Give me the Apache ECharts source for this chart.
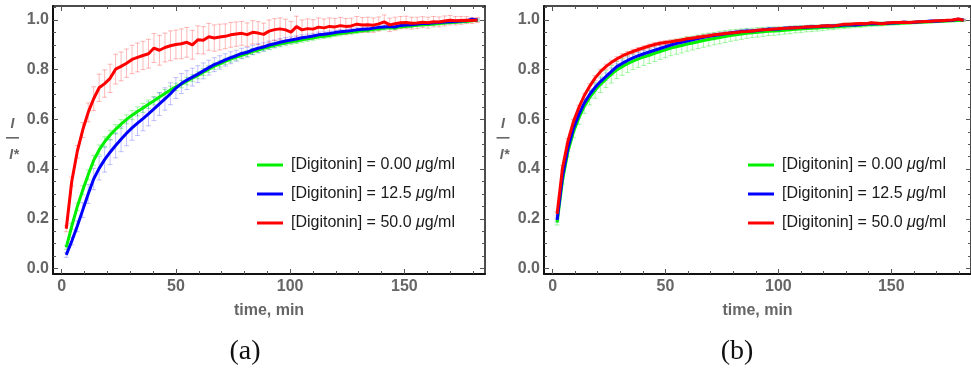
<!DOCTYPE html>
<html>
<head>
<meta charset="utf-8">
<script src="https://cdn.jsdelivr.net/npm/echarts@6/dist/echarts.min.js"></script>
<style>
html,body{margin:0;padding:0;background:#fff;}
#chart{width:971px;height:371px;}
</style>
</head>
<body>
<div id="chart"></div>
<script>
// ---- data ----
const time = [2.0,4.4,6.8,9.2,11.6,14.0,16.4,18.8,21.2,23.6,26.0,28.4,30.8,33.2,35.6,38.0,40.4,42.8,45.2,47.6,
  50.0,52.4,54.8,57.2,59.6,62.0,64.4,66.8,69.2,71.6,74.0,76.4,78.8,81.2,83.6,86.0,88.4,90.8,93.2,95.6,
  98.0,100.4,102.8,105.2,107.6,110.0,112.4,114.8,117.2,119.6,122.0,124.4,126.8,129.2,131.6,134.0,136.4,138.8,141.2,143.6,
  146.0,148.4,150.8,153.2,155.6,158.0,160.4,162.8,165.2,167.6,170.0,172.4,174.8,177.2,179.6,182.0];

const seriesNames = ['[Digitonin] = 0.00 μg/ml', '[Digitonin] = 12.5 μg/ml', '[Digitonin] = 50.0 μg/ml'];

// panel (a)
const greenA = [0.085,0.17,0.248,0.315,0.377,0.435,0.477,0.51,0.537,0.56,0.581,0.6,0.617,0.632,0.646,0.661,0.675,0.69,0.704,0.718,
  0.731,0.742,0.754,0.766,0.777,0.79,0.802,0.814,0.823,0.833,0.842,0.85,0.858,0.865,0.873,0.879,0.886,0.892,0.898,0.903,
  0.908,0.912,0.915,0.92,0.924,0.927,0.932,0.934,0.937,0.942,0.945,0.948,0.951,0.953,0.957,0.958,0.962,0.964,0.967,0.969,
  0.968,0.973,0.975,0.976,0.979,0.981,0.982,0.984,0.986,0.988,0.99,0.991,0.993,0.994,0.997,0.999];
const greenAErr = [0.008,0.012,0.015,0.018,0.02,0.02,0.02,0.02,0.019,0.019,0.018,0.018,0.018,0.018,0.018,0.017,0.017,0.016,0.016,0.016,
  0.015,0.015,0.015,0.014,0.014,0.014,0.013,0.013,0.013,0.013,0.012,0.012,0.012,0.012,0.012,0.011,0.011,0.011,0.011,0.011,
  0.01,0.01,0.01,0.01,0.01,0.009,0.009,0.009,0.009,0.009,0.009,0.008,0.008,0.008,0.008,0.008,0.008,0.008,0.008,0.007,
  0.007,0.007,0.007,0.007,0.006,0.006,0.006,0.006,0.006,0.005,0.005,0.005,0.005,0.005,0.004,0.004];
const blueA = [0.055,0.11,0.17,0.235,0.3,0.36,0.403,0.438,0.468,0.495,0.52,0.544,0.566,0.585,0.603,0.622,0.642,0.662,0.682,0.703,
  0.726,0.744,0.758,0.77,0.782,0.795,0.808,0.82,0.829,0.839,0.848,0.856,0.865,0.87,0.879,0.886,0.891,0.899,0.904,0.91,
  0.915,0.919,0.923,0.928,0.931,0.935,0.94,0.942,0.945,0.949,0.952,0.954,0.957,0.96,0.962,0.963,0.967,0.97,0.972,0.974,
  0.972,0.978,0.98,0.981,0.984,0.986,0.986,0.989,0.99,0.992,0.993,0.994,0.996,0.997,1.003,1.0];
const blueAErr = [0.01,0.015,0.022,0.03,0.038,0.043,0.047,0.05,0.05,0.05,0.05,0.05,0.05,0.05,0.049,0.048,0.047,0.046,0.045,0.044,
  0.042,0.04,0.038,0.036,0.034,0.032,0.03,0.028,0.027,0.025,0.024,0.022,0.021,0.02,0.019,0.018,0.017,0.016,0.015,0.015,
  0.014,0.013,0.013,0.012,0.012,0.011,0.011,0.01,0.01,0.01,0.009,0.009,0.009,0.008,0.008,0.008,0.008,0.007,0.007,0.007,
  0.007,0.006,0.006,0.006,0.006,0.006,0.005,0.005,0.005,0.005,0.005,0.005,0.004,0.004,0.004,0.004];
const redA = [0.16,0.35,0.47,0.557,0.628,0.683,0.727,0.744,0.765,0.802,0.813,0.826,0.841,0.849,0.857,0.864,0.887,0.878,0.889,0.896,
  0.901,0.904,0.91,0.9,0.92,0.918,0.932,0.927,0.931,0.934,0.94,0.943,0.946,0.941,0.95,0.947,0.942,0.955,0.961,0.964,
  0.96,0.951,0.973,0.96,0.965,0.963,0.971,0.968,0.974,0.972,0.977,0.974,0.976,0.983,0.98,0.981,0.979,0.984,0.992,0.98,
  0.985,0.989,0.99,0.987,0.988,0.991,0.989,0.993,0.992,0.996,0.999,0.997,0.998,0.999,0.998,1.0];
const redAErr = [0.012,0.018,0.025,0.03,0.038,0.048,0.055,0.055,0.057,0.06,0.058,0.057,0.057,0.058,0.057,0.058,0.058,0.06,0.058,0.06,
  0.058,0.06,0.06,0.058,0.056,0.055,0.054,0.053,0.052,0.05,0.05,0.049,0.048,0.047,0.047,0.046,0.045,0.045,0.044,0.044,
  0.043,0.043,0.042,0.04,0.039,0.038,0.037,0.036,0.034,0.034,0.033,0.032,0.031,0.031,0.03,0.03,0.029,0.028,0.028,0.027,
  0.026,0.025,0.025,0.024,0.023,0.022,0.022,0.021,0.02,0.02,0.019,0.017,0.016,0.014,0.012,0.01];

// panel (b)
const greenB = [0.185,0.355,0.47,0.548,0.605,0.652,0.688,0.717,0.741,0.762,0.781,0.799,0.812,0.824,0.834,0.843,0.851,0.858,0.866,0.873,
  0.88,0.887,0.892,0.897,0.903,0.907,0.912,0.917,0.921,0.925,0.929,0.933,0.937,0.94,0.943,0.946,0.948,0.95,0.952,0.954,
  0.955,0.956,0.958,0.96,0.962,0.963,0.965,0.966,0.967,0.969,0.971,0.972,0.974,0.975,0.977,0.978,0.979,0.981,0.982,0.983,
  0.984,0.985,0.986,0.987,0.988,0.989,0.99,0.991,0.992,0.993,0.994,0.995,0.996,0.997,0.998,0.998];
const greenBErr = [0.01,0.015,0.02,0.022,0.025,0.028,0.03,0.032,0.033,0.034,0.035,0.035,0.035,0.035,0.034,0.034,0.034,0.033,0.033,0.032,
  0.032,0.031,0.03,0.03,0.029,0.028,0.027,0.027,0.026,0.025,0.025,0.024,0.023,0.022,0.021,0.02,0.019,0.019,0.018,0.017,
  0.017,0.016,0.015,0.015,0.014,0.014,0.013,0.013,0.012,0.012,0.011,0.011,0.01,0.01,0.01,0.009,0.009,0.009,0.008,0.008,
  0.008,0.007,0.007,0.007,0.006,0.006,0.006,0.006,0.005,0.005,0.005,0.005,0.004,0.004,0.004,0.004];
const blueB = [0.195,0.37,0.484,0.562,0.618,0.665,0.7,0.728,0.752,0.772,0.792,0.812,0.825,0.837,0.847,0.856,0.864,0.871,0.878,0.885,
  0.892,0.899,0.905,0.91,0.915,0.92,0.925,0.93,0.934,0.937,0.94,0.944,0.947,0.95,0.953,0.955,0.955,0.957,0.96,0.963,
  0.962,0.963,0.967,0.968,0.969,0.97,0.971,0.973,0.973,0.975,0.976,0.976,0.978,0.98,0.981,0.98,0.982,0.984,0.986,0.985,
  0.986,0.987,0.988,0.989,0.991,0.99,0.991,0.993,0.994,0.996,0.995,0.997,0.998,0.999,1.003,1.0];
const blueBErr = [0.008,0.01,0.012,0.013,0.014,0.015,0.015,0.015,0.015,0.015,0.015,0.014,0.014,0.014,0.013,0.013,0.013,0.012,0.012,0.012,
  0.011,0.011,0.011,0.01,0.01,0.01,0.01,0.009,0.009,0.009,0.009,0.008,0.008,0.008,0.008,0.008,0.007,0.007,0.007,0.007,
  0.007,0.007,0.006,0.006,0.006,0.006,0.006,0.006,0.005,0.005,0.005,0.005,0.005,0.005,0.005,0.005,0.004,0.004,0.004,0.004,
  0.004,0.004,0.004,0.004,0.004,0.004,0.003,0.003,0.003,0.003,0.003,0.003,0.003,0.003,0.003,0.003];
const redB = [0.22,0.405,0.513,0.59,0.647,0.695,0.733,0.766,0.792,0.812,0.829,0.843,0.855,0.864,0.873,0.881,0.888,0.895,0.901,0.906,
  0.909,0.912,0.916,0.919,0.924,0.926,0.93,0.933,0.936,0.94,0.942,0.945,0.947,0.949,0.952,0.953,0.955,0.958,0.96,0.961,
  0.963,0.965,0.966,0.968,0.969,0.97,0.972,0.973,0.974,0.976,0.977,0.976,0.979,0.983,0.983,0.985,0.986,0.985,0.989,0.987,
  0.985,0.988,0.99,0.99,0.991,0.99,0.992,0.993,0.994,0.995,0.997,0.997,0.999,1.0,1.004,0.999];
const redBErr = [0.008,0.009,0.01,0.01,0.01,0.01,0.01,0.01,0.01,0.01,0.009,0.009,0.009,0.009,0.009,0.008,0.008,0.008,0.008,0.008,
  0.008,0.008,0.007,0.007,0.007,0.007,0.007,0.007,0.007,0.006,0.006,0.006,0.006,0.006,0.006,0.006,0.006,0.005,0.005,0.005,
  0.005,0.005,0.005,0.005,0.005,0.005,0.005,0.005,0.004,0.004,0.004,0.004,0.004,0.004,0.004,0.004,0.004,0.004,0.004,0.004,
  0.004,0.004,0.003,0.003,0.003,0.003,0.003,0.003,0.003,0.003,0.003,0.003,0.003,0.003,0.003,0.003];

const xMajor = [0, 50, 100, 150];
const xMinor = [10,20,30,40,60,70,80,90,110,120,130,140,160,170,180];
const yMajor = [0, 0.2, 0.4, 0.6, 0.8, 1.0];
const yMinor = [0.05,0.1,0.15,0.25,0.3,0.35,0.45,0.5,0.55,0.65,0.7,0.75,0.85,0.9,0.95,1.05];

// ---- styles ----
const colors = ['#00f000', '#0000ff', '#ff0000'];
const errColors = ['rgba(0,230,0,0.35)', 'rgba(40,40,255,0.28)', 'rgba(255,0,0,0.28)'];
const labelGray = '#666666';
const FONT = "'Liberation Sans', Arial, sans-serif";

const panels = [
  {left: 53, width: 432, data: [greenA, blueA, redA], err: [greenAErr, blueAErr, redAErr], legendLeft: 257},
  {left: 544, width: 432, data: [greenB, blueB, redB], err: [greenBErr, blueBErr, redBErr], legendLeft: 748}
];
const X_MIN = -3.8, X_MAX = 185.3, Y_MIN = -0.022, Y_MAX = 1.056;

const grid = [], xAxis = [], yAxis = [], series = [], legend = [];

panels.forEach((p, gi) => {
  grid.push({left: p.left, top: 6, width: p.width, height: 268, containLabel: false});
  const xBase = xAxis.length, yBase = yAxis.length;
  const mkX = (pos, ticks, len, showLine, showLabel, lw) => ({
    type: 'value', gridIndex: gi, position: pos, min: X_MIN, max: X_MAX,
    splitLine: {show: false},
    axisLine: {show: showLine, onZero: false, lineStyle: {color: '#111', width: lw}},
    axisTick: {show: true, inside: true, length: len, customValues: ticks, lineStyle: {color: '#555', width: 1}},
    axisLabel: showLabel ? {show: true, customValues: ticks, margin: 5, color: labelGray,
      fontFamily: FONT, fontWeight: 'bold', fontSize: 16} : {show: false},
    name: showLabel ? 'time, min' : '', nameLocation: 'middle', nameGap: 29,
    nameTextStyle: {color: labelGray, fontFamily: FONT, fontWeight: 'bold', fontSize: 16}
  });
  const mkY = (pos, ticks, len, showLine, showLabel, lw) => ({
    type: 'value', gridIndex: gi, position: pos, min: Y_MIN, max: Y_MAX,
    splitLine: {show: false},
    axisLine: {show: showLine, onZero: false, lineStyle: {color: '#111', width: lw}},
    axisTick: {show: true, inside: true, length: len, customValues: ticks, lineStyle: {color: '#555', width: 1}},
    axisLabel: showLabel ? {show: true, customValues: ticks, margin: 4, color: labelGray,
      fontFamily: FONT, fontWeight: 'bold', fontSize: 16, formatter: v => v.toFixed(1)} : {show: false}
  });
  xAxis.push(mkX('bottom', xMajor, 5, true, true, 2));
  xAxis.push(mkX('bottom', xMinor, 3, false, false, 1));
  xAxis.push(mkX('top', xMajor, 5, true, false, 1.5));
  xAxis.push(mkX('top', xMinor, 3, false, false, 1));
  yAxis.push(mkY('left', yMajor, 5, true, true, 2));
  yAxis.push(mkY('left', yMinor, 3, false, false, 1));
  yAxis.push(mkY('right', yMajor, 5, true, false, 1.5));
  yAxis.push(mkY('right', yMinor, 3, false, false, 1));

  // error bars first (underneath)
  p.data.forEach((vals, si) => {
    const errs = p.err[si];
    series.push({
      type: 'custom', name: 'err' + gi + '_' + si, xAxisIndex: xBase, yAxisIndex: yBase,
      silent: true, clip: true, z: 1,
      encode: {x: 0, y: [1, 2]},
      data: time.map((t, i) => [t, vals[i] - errs[i], vals[i] + errs[i]]),
      renderItem: (params, api) => {
        const x = api.value(0);
        const lo = api.coord([x, api.value(1)]);
        const hi = api.coord([x, api.value(2)]);
        const w = 2.5;
        const style = {stroke: errColors[si], lineWidth: 1, fill: null};
        return {type: 'group', children: [
          {type: 'line', shape: {x1: lo[0], y1: lo[1], x2: hi[0], y2: hi[1]}, style},
          {type: 'line', shape: {x1: lo[0] - w, y1: lo[1], x2: lo[0] + w, y2: lo[1]}, style},
          {type: 'line', shape: {x1: hi[0] - w, y1: hi[1], x2: hi[0] + w, y2: hi[1]}, style}
        ]};
      }
    });
  });
  p.data.forEach((vals, si) => {
    series.push({
      type: 'line', name: seriesNames[si], xAxisIndex: xBase, yAxisIndex: yBase,
      data: time.map((t, i) => [t, vals[i]]),
      showSymbol: false, symbol: 'none', z: 3 + si,
      lineStyle: {color: colors[si], width: 3},
      itemStyle: {color: colors[si]}
    });
  });

  legend.push({
    data: seriesNames.map(n => ({name: n, icon: 'rect'})),
    orient: 'vertical', left: p.legendLeft, top: 150.5, padding: 0,
    itemWidth: 26, itemHeight: 3, itemGap: 0,
    selectedMode: false,
    formatter: n => n.replace('μ', '{i|μ}'),
    textStyle: {color: '#1a1a1a', fontFamily: FONT, fontSize: 16, lineHeight: 29, padding: [0, 0, 0, 3],
      rich: {i: {fontStyle: 'italic', color: '#1a1a1a', fontFamily: FONT, fontSize: 16, lineHeight: 29}}}
  });
});

// y-axis fraction label I / I*
function fracLabel(cx) {
  const st = {fill: labelGray, font: "italic bold 14px 'Liberation Sans', Arial, sans-serif", textAlign: 'center', textVerticalAlign: 'middle'};
  return [
    {type: 'text', x: cx, y: 124, style: Object.assign({text: 'I'}, st)},
    {type: 'rect', shape: {x: cx - 6.5, y: 137, width: 13, height: 1.6}, style: {fill: labelGray}},
    {type: 'text', x: cx + 1.5, y: 155, style: Object.assign({text: 'I*'}, st)}
  ];
}
const captionStyle = {fill: '#111', font: "28px 'Liberation Serif', 'Times New Roman', serif", textAlign: 'center', textVerticalAlign: 'middle'};

const chart = echarts.init(document.getElementById('chart'), null, {renderer: 'canvas'});
chart.setOption({
  animation: false,
  backgroundColor: '#ffffff',
  grid, xAxis, yAxis, series, legend,
  graphic: [
    ...fracLabel(12.5),
    ...fracLabel(503),
    {type: 'text', x: 245, y: 352, style: Object.assign({text: '(a)'}, captionStyle)},
    {type: 'text', x: 737, y: 352, style: Object.assign({text: '(b)'}, captionStyle)}
  ]
});
</script>
</body>
</html>
